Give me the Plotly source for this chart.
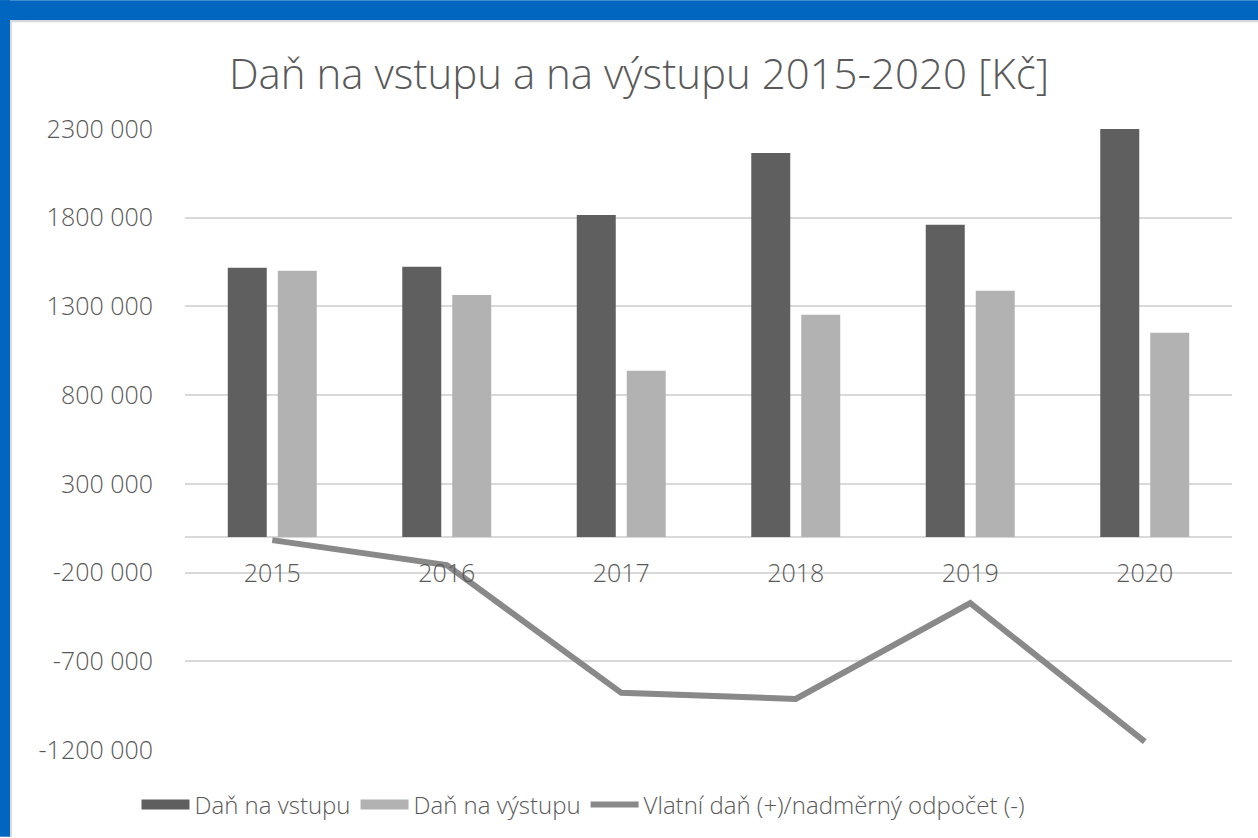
import plotly.graph_objects as go

years = ["2015", "2016", "2017", "2018", "2019", "2020"]
dan_vstup = [1518000, 1523000, 1816000, 2165000, 1760000, 2305000]
dan_vystup = [1501000, 1365000, 938000, 1253000, 1388000, 1152000]
vlastni_dan = [-17000, -158000, -878000, -912000, -372000, -1153000]

tick_vals = [2300000, 1800000, 1300000, 800000, 300000, -200000, -700000, -1200000]
tick_text = ["2300 000", "1800 000", "1300 000", "800 000", "300 000", "-200 000", "-700 000", "-1200 000"]

FONT = "Open Sans"
TXT = "#595959"
C_DARK, C_LIGHT, C_LINE = "#5F5F5F", "#B2B2B2", "#898989"
N1, N2, N3 = "Daň na vstupu", "Daň na výstupu", "Vlatní daň (+)/nadměrný odpočet (-)"

fig = go.Figure()
fig.add_trace(go.Bar(x=years, y=dan_vstup, name=N1, legendgroup="a", showlegend=False,
                     marker=dict(color=C_DARK, line=dict(width=0))))
fig.add_trace(go.Bar(x=years, y=dan_vystup, name=N2, legendgroup="b", showlegend=False,
                     marker=dict(color=C_LIGHT, line=dict(width=0))))
fig.add_trace(go.Scatter(x=years, y=vlastni_dan, name=N3, legendgroup="c", legendrank=3,
                         mode="lines", line=dict(color=C_LINE, width=6)))
# legend-only entries giving the wide rectangular swatches of the bars
fig.add_trace(go.Scatter(x=[None], y=[None], name=N1, legendgroup="a", legendrank=1,
                         mode="lines", line=dict(color=C_DARK, width=14), hoverinfo="skip"))
fig.add_trace(go.Scatter(x=[None], y=[None], name=N2, legendgroup="b", legendrank=2,
                         mode="lines", line=dict(color=C_LIGHT, width=14), hoverinfo="skip"))

W, H = 1047, 622
L, T = 185, 129
def px(x):
    return (x - L) / W
def py(y):
    return (T + H - y) / H

shapes = [
    dict(type="rect", xref="paper", yref="paper", x0=px(0), x1=px(10), y0=py(838), y1=py(0),
         fillcolor="#0066BF", line=dict(width=0), layer="below"),
    dict(type="rect", xref="paper", yref="paper", x0=px(0), x1=px(1258), y0=py(20), y1=py(0),
         fillcolor="#0066BF", line=dict(width=0), layer="below"),
    dict(type="line", xref="paper", yref="paper", x0=px(11), x1=px(11), y0=py(838), y1=py(20),
         line=dict(color="#D9D9D9", width=2), layer="below"),
    dict(type="line", xref="paper", yref="paper", x0=px(10), x1=px(1258), y0=py(21), y1=py(21),
         line=dict(color="#D9D9D9", width=2), layer="below"),
]

fig.update_layout(
    width=1258, height=838,
    margin=dict(l=L, r=1258 - L - W, t=T, b=838 - T - H),
    paper_bgcolor="white", plot_bgcolor="white",
    font=dict(family=FONT, color=TXT, size=24, weight=300),
    title=dict(text="Daň na vstupu a na výstupu 2015-2020 [Kč]", x=639 / 1258, xref="container",
               xanchor="center", y=1 - 74 / 838, yanchor="middle",
               font=dict(size=42, color=TXT, family=FONT, weight=300)),
    barmode="group", bargap=0.427, bargroupgap=0.22,
    showlegend=True,
    legend=dict(orientation="h", x=px(583), xanchor="center", y=py(805), yanchor="middle",
                font=dict(size=24, color=TXT, weight=300), itemwidth=48, traceorder="normal"),
    shapes=shapes,
    xaxis=dict(anchor="free", position=1.2 / 3.5, showline=False, showgrid=False,
               ticks="", tickfont=dict(size=25, color=TXT, weight=300), ticklabelstandoff=19),
    yaxis=dict(range=[-1200000, 2300000], tickvals=tick_vals, ticktext=tick_text,
               showgrid=True, gridcolor="#D9D9D9", gridwidth=2,
               zeroline=True, zerolinecolor="#D9D9D9", zerolinewidth=2,
               showline=False, ticks="", ticklabelstandoff=31,
               tickfont=dict(size=25, color=TXT, weight=300)),
)

fig.write_html("out.html", config={"displayModeBar": False},
               post_script="document.body.style.margin='0';")
